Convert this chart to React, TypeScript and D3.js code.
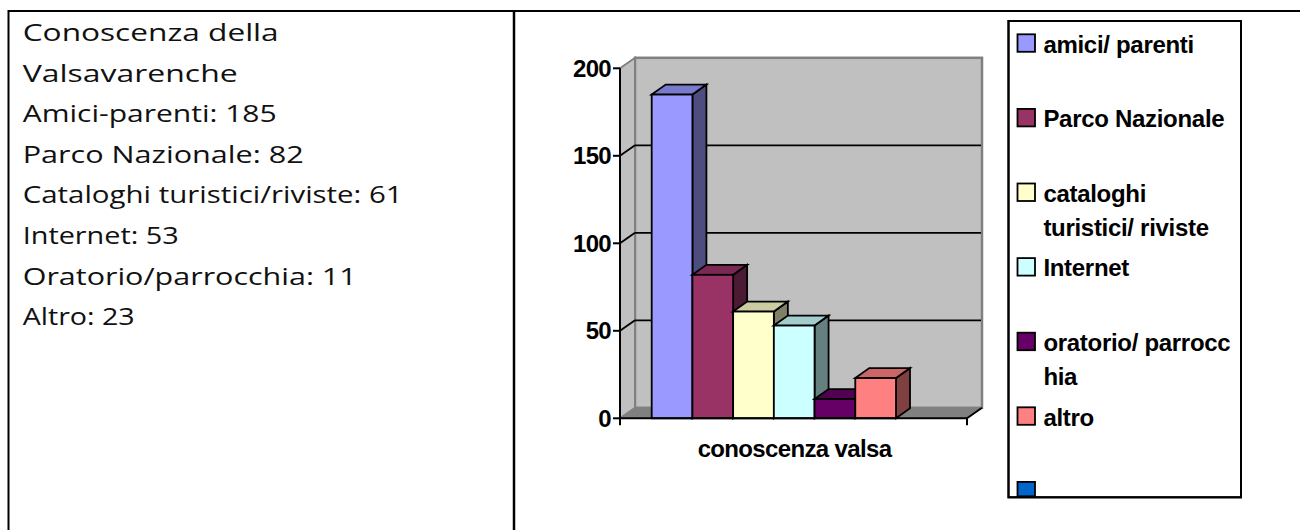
import React from "react";
import * as d3 from "d3";

// ---- data ----
const infoLines = [
  "Conoscenza della",
  "Valsavarenche",
  "Amici-parenti: 185",
  "Parco Nazionale: 82",
  "Cataloghi turistici/riviste: 61",
  "Internet: 53",
  "Oratorio/parrocchia: 11",
  "Altro: 23",
];
const infoWidths = [256, 215, 254, 281, 380, 156, 334, 112];

const categoryLabel = "conoscenza valsa";
const seriesNames = [
  "amici/ parenti",
  "Parco Nazionale",
  "cataloghi turistici/ riviste",
  "Internet",
  "oratorio/ parrocchia",
  "altro",
];
const seriesValues = [185, 82, 61, 53, 11, 23];
const seriesColors = ["#9999FF", "#993366", "#FFFFCC", "#CCFFFF", "#660066", "#FF8080"];

const legendLines = [
  ["amici/ parenti"],
  ["Parco Nazionale"],
  ["cataloghi", "turistici/ riviste"],
  ["Internet"],
  ["oratorio/ parrocc", "hia"],
  ["altro"],
  [""],
];
const legendColors = [...seriesColors, "#0066CC"];

const yTicks = [0, 50, 100, 150, 200];

// ---- layout ----
const plotLeft = 620;
const plotRight = 967;
const yTop = 68.3;
const yBottom = 418.3;
const wallDX = 15;
const wallDY = -10.5;
const barDX = 14;
const barDY = -10;

function shade(c: string, k: number) {
  const col = d3.rgb(c);
  return d3.rgb(col.r * k, col.g * k, col.b * k).formatHex();
}

export default function App() {
  const y = d3.scaleLinear().domain([0, 200]).range([yBottom, yTop]);
  const x = d3
    .scaleBand<string>()
    .domain(seriesNames)
    .range([plotLeft + 31.7, plotLeft + 276])
    .padding(0);

  const backL = plotLeft + wallDX;
  const backR = plotRight + wallDX;
  const pts = (arr: number[][]) => arr.map((p) => p.join(",")).join(" ");

  const boldFont = "'Liberation Sans', Arial, sans-serif";

  return (
    <svg
      width={1300}
      height={530}
      style={{ position: "absolute", left: 0, top: 0, background: "#fff" }}
    >
      {/* table borders */}
      <line x1={8.5} y1={11} x2={1300} y2={11} stroke="#000" strokeWidth={2} />
      <line x1={8.5} y1={10} x2={8.5} y2={530} stroke="#000" strokeWidth={2} />
      <line x1={514} y1={10} x2={514} y2={530} stroke="#000" strokeWidth={2.5} />

      {/* left text */}
      {infoLines.map((t, i) => (
        <text
          key={i}
          x={22.7}
          y={41 + i * 40.6}
          fontFamily="'Open Sans', 'DejaVu Sans', sans-serif"
          fontSize={24.5}
          fill="#111"
          textLength={infoWidths[i]}
          lengthAdjust="spacingAndGlyphs"
        >
          {t}
        </text>
      ))}

      {/* back wall */}
      <rect
        x={backL}
        y={yTop + wallDY}
        width={backR - backL}
        height={yBottom - yTop}
        fill="#C0C0C0"
        stroke="#808080"
        strokeWidth={2.5}
      />
      {/* left wall */}
      <polygon
        points={pts([
          [plotLeft, yTop],
          [backL, yTop + wallDY],
          [backL, yBottom + wallDY],
          [plotLeft, yBottom],
        ])}
        fill="#C0C0C0"
        stroke="#808080"
        strokeWidth={2}
      />
      {/* floor */}
      <polygon
        points={pts([
          [plotLeft, yBottom],
          [backL, yBottom + wallDY],
          [backR, yBottom + wallDY],
          [plotRight, yBottom],
        ])}
        fill="#808080"
        stroke="#808080"
        strokeWidth={1}
      />
      {/* gridlines */}
      {yTicks
        .filter((v) => v > 0 && v < 200)
        .map((v) => (
          <g key={v}>
            <line
              x1={plotLeft}
              y1={y(v)}
              x2={backL}
              y2={y(v) + wallDY}
              stroke="#000"
              strokeWidth={1.8}
            />
            <line
              x1={backL}
              y1={y(v) + wallDY}
              x2={backR - 1}
              y2={y(v) + wallDY}
              stroke="#000"
              strokeWidth={1.8}
            />
          </g>
        ))}

      {/* bars */}
      {seriesNames.map((s, i) => {
        const x0 = x(s)!;
        const x1 = x0 + x.bandwidth();
        const yt = y(seriesValues[i]);
        const c = seriesColors[i];
        return (
          <g key={s} stroke="#000" strokeWidth={1.8} strokeLinejoin="miter">
            <polygon
              points={pts([
                [x1, yt],
                [x1 + barDX, yt + barDY],
                [x1 + barDX, yBottom + barDY],
                [x1, yBottom],
              ])}
              fill={shade(c, 0.5)}
            />
            <polygon
              points={pts([
                [x0, yt],
                [x0 + barDX, yt + barDY],
                [x1 + barDX, yt + barDY],
                [x1, yt],
              ])}
              fill={shade(c, 0.8)}
            />
            <rect x={x0} y={yt} width={x1 - x0} height={yBottom - yt} fill={c} />
          </g>
        );
      })}

      {/* axes */}
      <line x1={plotLeft} y1={yTop} x2={plotLeft} y2={yBottom + 7} stroke="#000" strokeWidth={2} />
      <line x1={plotLeft} y1={yBottom} x2={plotRight} y2={yBottom} stroke="#000" strokeWidth={2} />
      <line x1={plotRight} y1={yBottom} x2={plotRight} y2={yBottom + 7} stroke="#000" strokeWidth={2} />
      <line
        x1={plotRight}
        y1={yBottom}
        x2={backR}
        y2={yBottom + wallDY}
        stroke="#000"
        strokeWidth={2}
      />
      {yTicks.map((v) => (
        <g key={v}>
          <line x1={plotLeft - 7} y1={y(v)} x2={plotLeft} y2={y(v)} stroke="#000" strokeWidth={2} />
          <text
            x={plotLeft - 9}
            y={y(v) + 8.5}
            textAnchor="end"
            fontFamily={boldFont}
            fontWeight="bold"
            fontSize={24}
            letterSpacing={-0.7}
            fill="#000"
          >
            {v}
          </text>
        </g>
      ))}
      <text
        x={(plotLeft + plotRight) / 2 + 1}
        y={456.7}
        textAnchor="middle"
        fontFamily={boldFont}
        fontWeight="bold"
        fontSize={24}
        letterSpacing={-0.65}
        fill="#000"
      >
        {categoryLabel}
      </text>

      {/* legend */}
      <rect x={1008.5} y={21} width={232.5} height={476.3} fill="#fff" stroke="#000" strokeWidth={2} />
      <g>
        {legendLines.map((lines, i) => {
          const top = 34.3 + i * 74.6;
          const h = i === legendLines.length - 1 ? Math.min(17.5, 496.3 - top) : 17.5;
          return (
            <g key={i}>
              <rect
                x={1017.5}
                y={top}
                width={17.5}
                height={h}
                fill={legendColors[i]}
                stroke="#000"
                strokeWidth={1.8}
              />
              {lines.map((t, j) => (
                <text
                  key={j}
                  x={1043.4}
                  y={top + 18.3 + j * 33.7}
                  fontFamily={boldFont}
                  fontWeight="bold"
                  fontSize={24}
                  letterSpacing={-0.3}
                  fill="#000"
                >
                  {t}
                </text>
              ))}
            </g>
          );
        })}
      </g>
      <rect x={1008.5} y={21} width={232.5} height={476.3} fill="none" stroke="#000" strokeWidth={2} />
    </svg>
  );
}
